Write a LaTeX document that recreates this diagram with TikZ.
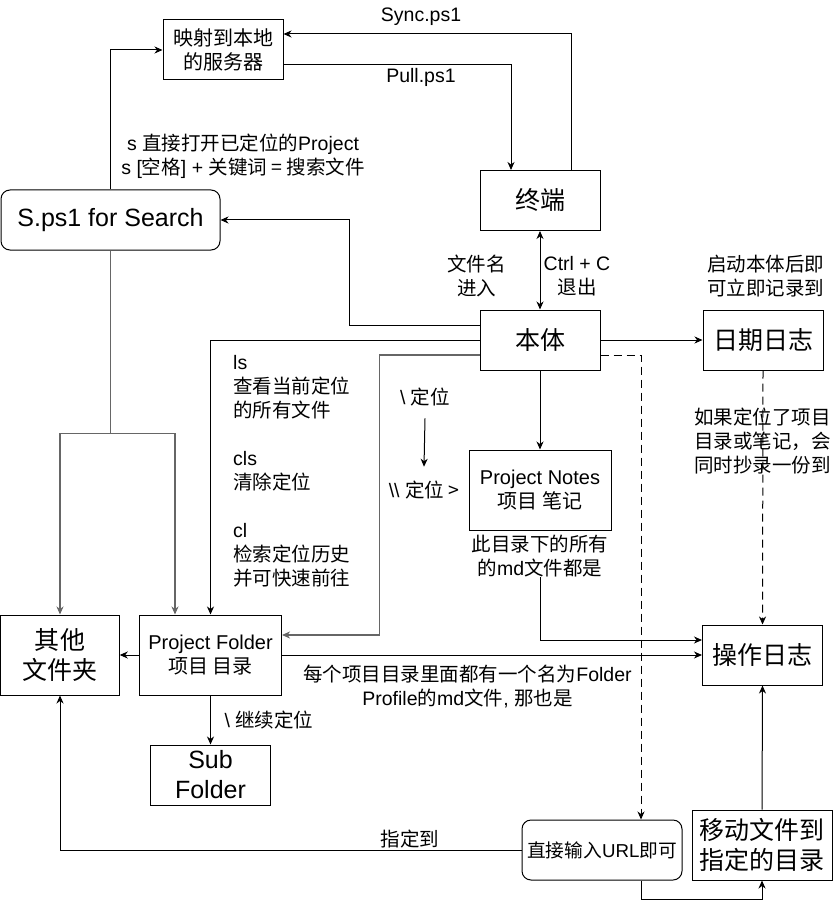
\documentclass[tikz,border=0pt]{standalone}
\usepackage{fontspec}
\setmainfont{Liberation Sans}
\newfontfamily\cjkf{Noto Sans CJK SC}
\usetikzlibrary{arrows.meta,calc}
\XeTeXinterchartokenstate=1
\newXeTeXintercharclass\cjkcls
\makeatletter
\count@="3000
\loop \XeTeXcharclass\count@=\cjkcls \ifnum\count@<"9FFF \advance\count@ 1 \repeat
\count@="FF00
\loop \XeTeXcharclass\count@=\cjkcls \ifnum\count@<"FFEF \advance\count@ 1 \repeat
\makeatother
\XeTeXinterchartoks 0 \cjkcls = {\cjkf}
\XeTeXinterchartoks 4095 \cjkcls = {\cjkf}
\XeTeXinterchartoks \cjkcls 0 = {\rmfamily}
\definecolor{lgray}{HTML}{666666}
\begin{document}
\begin{tikzpicture}[x=1pt,y=-1pt,
  box/.style={draw,line width=1pt,inner sep=0pt,align=center},
  bigt/.style={font=\fontsize{25}{30}\selectfont},
  midt/.style={font=\fontsize{20}{24}\selectfont},
  lbl/.style={inner sep=0pt,align=center,font=\fontsize{19.5}{24}\selectfont},
  conn/.style={line width=1pt,-{Stealth[length=8pt,width=7pt,inset=2.5pt]}},
  glink/.style={conn,draw=lgray,line width=1.5pt},
  dlink/.style={conn,dash pattern=on 8pt off 5pt}
]
\useasboundingbox (0,0) rectangle (837,909);

% boxes
\node[box,midt,minimum width=120pt,minimum height=60pt] (server) at (223,50) {映射到本地\\的服务器};
\node[box,bigt,minimum width=120pt,minimum height=60pt] (term) at (540,200.5) {终端};
\node[box,bigt,rounded corners=9pt,minimum width=219pt,minimum height=60pt] (search) at (110.5,220) {S.ps1 for Search};
\node[box,bigt,minimum width=120pt,minimum height=60pt] (body) at (540,340) {本体};
\node[box,bigt,minimum width=120pt,minimum height=60pt] (daily) at (763,340) {日期日志};
\node[box,midt,minimum width=142pt,minimum height=80pt] (notes) at (540,490) {Project Notes\\项目 笔记};
\node[box,midt,minimum width=142pt,minimum height=80pt] (folder) at (210.5,655) {Project Folder\\项目 目录};
\node[box,bigt,minimum width=118.5pt,minimum height=80pt] (other) at (60,655) {其他\\文件夹};
\node[box,bigt,minimum width=120pt,minimum height=60pt] (sub) at (210.5,775) {Sub\\Folder};
\node[box,bigt,minimum width=120pt,minimum height=60pt] (oplog) at (762.5,655) {操作日志};
\node[box,rounded corners=9pt,font=\fontsize{18.7}{22}\selectfont,minimum width=160pt,minimum height=60pt] (url) at (602,850) {直接输入URL即可};
\node[box,bigt,minimum width=140pt,minimum height=70pt] (move) at (762,845) {移动文件到\\指定的目录};

% labels
\node[lbl] (sync) at (421,17) {Sync.ps1};
\node[lbl] (pull) at (421,77) {Pull.ps1};
\node[lbl] (slbl) at (243,156.5) {s 直接打开已定位的Project\\s [空格] + 关键词 = 搜索文件};
\node[lbl] (fname) at (476.5,276) {文件名\\进入};
\node[lbl] (ctrlc) at (577,276) {Ctrl + C\\退出};
\node[lbl] (start) at (765.5,276) {启动本体后即\\可立即记录到};
\node[lbl] (copy) at (762.5,441) {如果定位了项目\\目录或笔记，会\\同时抄录一份到};
\node[lbl,align=left,anchor=west] (cmds) at (233,471.5) {ls\\查看当前定位\\的所有文件\\[24pt]cls\\清除定位\\[24pt]cl\\检索定位历史\\并可快速前往};
\node[lbl] (loc1) at (425,397) {\textbackslash\ 定位};
\node[lbl] (loc2) at (424,490) {\textbackslash\textbackslash\ 定位 >};
\node[lbl] (notelbl) at (540,556) {此目录下的所有\\的md文件都是};
\node[lbl] (profile) at (467.5,686) {每个项目目录里面都有一个名为Folder\\Profile的md文件, 那也是};
\node[lbl] (cont) at (269,720) {\textbackslash\ 继续定位};
\node[lbl] (assign) at (410,839) {指定到};

% connectors
\draw[conn] ([xshift=31pt]term.north) |- ([yshift=16pt]server.east);
\draw[conn] ([yshift=-15pt]server.east) -| ([xshift=-29pt]term.north);
\draw[conn] (search.north) |- (server.west);
\draw[conn,{Stealth[length=8pt,width=7pt,inset=2.5pt]}-{Stealth[length=8pt,width=7pt,inset=2.5pt]}] (term.south) -- (body.north);
\draw[conn] ([yshift=15pt]body.west) -- ++(-130,0) |- (search.east);
\draw[conn] (body.west) -| (folder.north);
\draw[glink] ([yshift=-15pt]body.west) -- ++(-100,0) |- ([yshift=20pt]folder.east);
\draw[conn] (body.east) -- (daily.west);
\draw[dlink] ([yshift=-15pt]body.east) -| ([xshift=39pt]url.north);
\draw[conn] (body.south) -- (notes.north);
\draw[dlink] (daily.south) -- (oplog.north);
\draw[conn] (notelbl.south) |- ([yshift=15pt]oplog.west);
\draw[conn] (folder.east) -- (oplog.west);
\draw[conn] (folder.west) -- (other.east);
\draw[conn] (folder.south) -- (sub.north);
\draw[line width=1.5pt,draw=lgray] (search.south) -- ++(0,183) coordinate (j);
\draw[glink] ([xshift=0.7pt]j) -| (other.north);
\draw[glink] ([xshift=-0.7pt]j) -| ([xshift=-35.5pt]folder.north);
\draw[conn] (url.west) -| (other.south);
\draw[conn] ([xshift=39pt]url.south) -- ++(0,19) -| (move.south);
\draw[conn] (move.north) -- (oplog.south);
\draw[conn] ([yshift=-12pt]loc1.south) -- ([yshift=14pt]loc2.north);
\end{tikzpicture}
\end{document}
